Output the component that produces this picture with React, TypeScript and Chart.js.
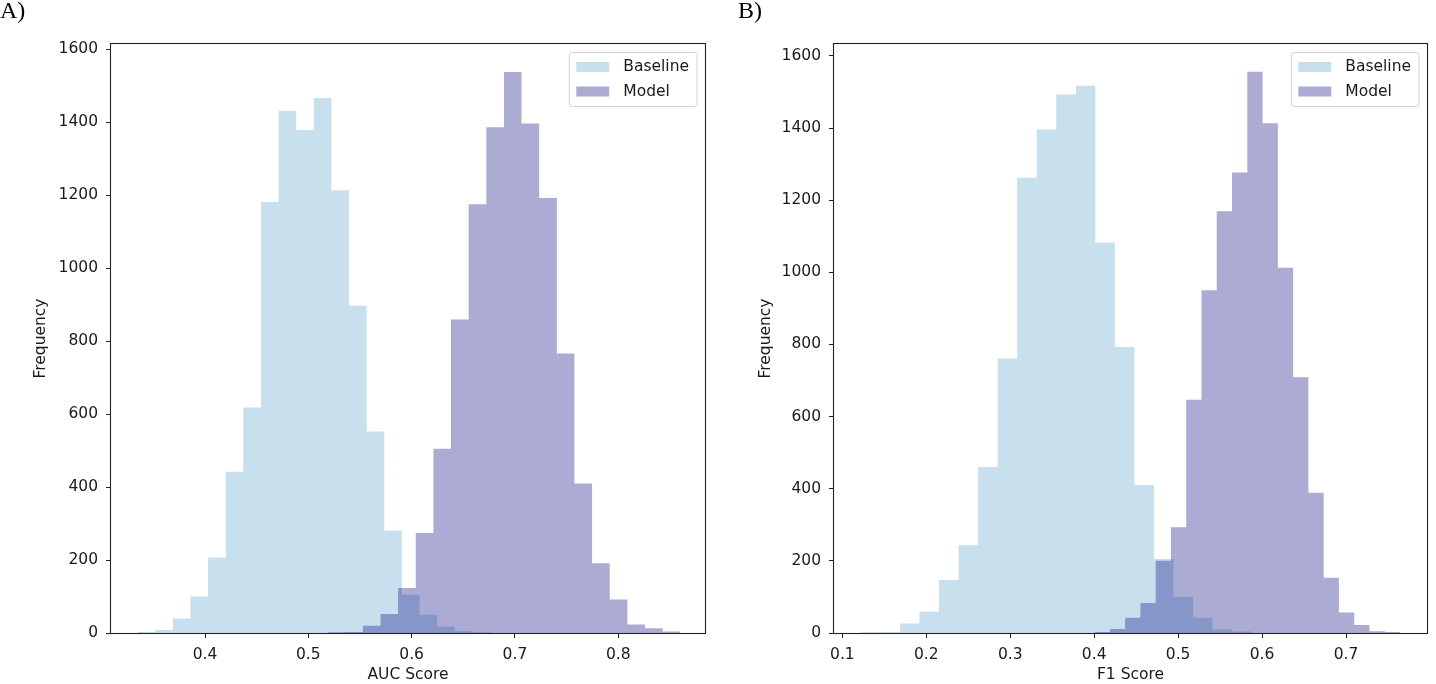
import React, { useEffect, useRef } from "react";
import { Chart, registerables } from "chart.js";

Chart.register(...registerables);

// ---------- Data ----------
// Panel A: AUC Score histograms
const aucBaselineEdges = [0.3348, 0.3519, 0.3689, 0.386, 0.403, 0.4201, 0.4371, 0.4542, 0.4712, 0.4883, 0.5053, 0.5224, 0.5395, 0.5565, 0.5736, 0.5906, 0.6077, 0.6247, 0.6418, 0.6588, 0.6759];
const aucBaselineCounts = [3, 8, 40, 100, 207, 442, 618, 1181, 1431, 1378, 1466, 1213, 897, 552, 280, 105, 50, 18, 5, 2];
const aucModelEdges = [0.5187, 0.5357, 0.5528, 0.5699, 0.5869, 0.604, 0.6211, 0.6381, 0.6552, 0.6723, 0.6894, 0.7064, 0.7235, 0.7406, 0.7576, 0.7747, 0.7918, 0.8089, 0.8259, 0.843, 0.8601];
const aucModelCounts = [2, 3, 20, 52, 123, 274, 505, 859, 1175, 1386, 1537, 1396, 1192, 766, 410, 191, 92, 23, 13, 4];
const aucXTicks = [0.4, 0.5, 0.6, 0.7, 0.8];

// Panel B: F1 Score histograms
const f1BaselineEdges = [0.122, 0.1453, 0.1686, 0.1918, 0.2151, 0.2384, 0.2617, 0.285, 0.3082, 0.3315, 0.3548, 0.3781, 0.4014, 0.4246, 0.4479, 0.4712, 0.4945, 0.5178, 0.541, 0.5643, 0.5876];
const f1BaselineCounts = [2, 3, 26, 59, 147, 243, 460, 761, 1262, 1396, 1493, 1517, 1082, 793, 410, 205, 100, 42, 10, 4];
const f1ModelEdges = [0.4004, 0.4186, 0.4368, 0.455, 0.4732, 0.4914, 0.5096, 0.5278, 0.546, 0.5642, 0.5824, 0.6006, 0.6188, 0.637, 0.6552, 0.6734, 0.6916, 0.7098, 0.728, 0.7462, 0.7644];
const f1ModelCounts = [3, 11, 42, 83, 200, 293, 647, 950, 1169, 1277, 1556, 1413, 1013, 709, 389, 153, 57, 22, 5, 3];
const f1XTicks = [0.1, 0.2, 0.3, 0.4, 0.5, 0.6, 0.7];

const yTicks = [0, 200, 400, 600, 800, 1000, 1200, 1400, 1600];
const seriesLabels = ["Baseline", "Model"];

// ---------- Styles ----------
const FONT = "'DejaVu Sans', sans-serif";
const FS = 15.5;
const TEXT = "#1a1a1a";
const BASELINE_FILL = "rgb(200, 224, 238)";
const MODEL_FILL = "rgba(3, 0, 125, 0.33)";

function histPoints(edges: number[], counts: number[]) {
  const pts = counts.map((c, i) => ({ x: edges[i], y: c }));
  pts.push({ x: edges[edges.length - 1], y: counts[counts.length - 1] });
  return pts;
}

const framePlugin = {
  id: "mplFrame",
  afterDraw(chart: any) {
    const { ctx, chartArea: a } = chart;
    ctx.save();
    ctx.strokeStyle = "#222";
    ctx.lineWidth = 1.1;
    ctx.strokeRect(Math.round(a.left) - 0.5, Math.round(a.top) - 0.5, Math.round(a.right - a.left) + 1, Math.round(a.bottom - a.top) + 1);
    ctx.restore();
  },
};

const legendPlugin = {
  id: "mplLegend",
  afterDraw(chart: any) {
    const { ctx, chartArea: a } = chart;
    const items = chart.data.datasets.map((ds: any) => ({ label: ds.label, color: ds.backgroundColor }));
    ctx.save();
    ctx.font = `${FS}px ${FONT}`;
    const tw = Math.max(...items.map((it: any) => ctx.measureText(it.label).width));
    const w = 54 + tw + 8;
    const h = 54;
    const x = a.right - 8 - w;
    const y = a.top + 8.5;
    const r = 3;
    ctx.beginPath();
    ctx.moveTo(x + r, y);
    ctx.lineTo(x + w - r, y);
    ctx.arcTo(x + w, y, x + w, y + r, r);
    ctx.lineTo(x + w, y + h - r);
    ctx.arcTo(x + w, y + h, x + w - r, y + h, r);
    ctx.lineTo(x + r, y + h);
    ctx.arcTo(x, y + h, x, y + h - r, r);
    ctx.lineTo(x, y + r);
    ctx.arcTo(x, y, x + r, y, r);
    ctx.closePath();
    ctx.fillStyle = "rgba(255,255,255,0.85)";
    ctx.fill();
    ctx.strokeStyle = "#d2d2d2";
    ctx.lineWidth = 1;
    ctx.stroke();
    items.forEach((it: any, i: number) => {
      const cy = y + 14.5 + i * 24.5;
      ctx.fillStyle = it.color;
      ctx.fillRect(x + 7, cy - 5, 33, 10);
      ctx.fillStyle = TEXT;
      ctx.textBaseline = "middle";
      ctx.textAlign = "left";
      ctx.fillText(it.label, x + 54, cy);
    });
    ctx.restore();
  },
};

type PanelProps = {
  left: number;
  baselineEdges: number[];
  baselineCounts: number[];
  modelEdges: number[];
  modelCounts: number[];
  xTicks: number[];
  xMin: number;
  xMax: number;
  yMax: number;
  xTitle: string;
  yAxisWidth: number;
  rightPad: number;
  yTitlePad: number;
};

function HistPanel(p: PanelProps) {
  const ref = useRef<HTMLCanvasElement | null>(null);
  useEffect(() => {
    if (!ref.current) return;
    const tickFont = { family: FONT, size: FS };
    const chart = new Chart(ref.current, {
      type: "line",
      data: {
        datasets: [
          {
            label: seriesLabels[0],
            data: histPoints(p.baselineEdges, p.baselineCounts),
            backgroundColor: BASELINE_FILL,
            borderColor: "rgba(0,0,0,0)",
            borderWidth: 0,
            pointRadius: 0,
            pointHoverRadius: 0,
            stepped: true,
            fill: "origin",
            order: 2,
          },
          {
            label: seriesLabels[1],
            data: histPoints(p.modelEdges, p.modelCounts),
            backgroundColor: MODEL_FILL,
            borderColor: "rgba(0,0,0,0)",
            borderWidth: 0,
            pointRadius: 0,
            pointHoverRadius: 0,
            stepped: true,
            fill: "origin",
            order: 1,
          },
        ],
      },
      options: {
        responsive: false,
        animation: false,
        events: [],
        layout: { padding: { top: 44, right: p.rightPad, left: 0, bottom: 0 } },
        plugins: {
          legend: { display: false },
          tooltip: { enabled: false },
          title: { display: false },
        },
        scales: {
          x: {
            type: "linear",
            min: p.xMin,
            max: p.xMax,
            afterBuildTicks: (scale: any) => {
              scale.ticks = p.xTicks.map((v) => ({ value: v }));
            },
            afterFit: (scale: any) => {
              scale.height = 51;
            },
            grid: { display: true, drawOnChartArea: false, drawTicks: true, tickLength: 5, tickColor: "#222", tickWidth: 1 },
            border: { display: false },
            ticks: {
              font: tickFont,
              color: TEXT,
              padding: 8,
              maxRotation: 0,
              autoSkip: false,
              callback: (v: any) => Number(v).toFixed(1),
            },
            title: { display: true, text: p.xTitle, font: tickFont, color: TEXT, padding: { top: 0, bottom: 0 } },
          },
          y: {
            type: "linear",
            min: 0,
            max: p.yMax,
            afterBuildTicks: (scale: any) => {
              scale.ticks = yTicks.map((v) => ({ value: v }));
            },
            afterFit: (scale: any) => {
              scale.width = p.yAxisWidth;
            },
            grid: { display: true, drawOnChartArea: false, drawTicks: true, tickLength: 5, tickColor: "#222", tickWidth: 1 },
            border: { display: false },
            ticks: {
              font: tickFont,
              color: TEXT,
              padding: 8,
              autoSkip: false,
              callback: (v: any) => String(Math.round(Number(v))),
            },
            title: { display: true, text: "Frequency", font: tickFont, color: TEXT, padding: { top: p.yTitlePad, bottom: 0 } },
          },
        },
      },
      plugins: [framePlugin, legendPlugin],
    } as any);
    return () => chart.destroy();
  }, []);
  return (
    <canvas
      ref={ref}
      width={718}
      height={684}
      style={{ position: "absolute", left: p.left, top: 0, width: 718, height: 684, display: "block" }}
    />
  );
}

export default function App() {
  const labelStyle: React.CSSProperties = {
    position: "absolute",
    top: -2,
    fontFamily: "'Liberation Serif', 'Times New Roman', serif",
    fontSize: 24,
    lineHeight: "24px",
    color: "#000",
  };
  return (
    <div style={{ position: "absolute", left: 0, top: 0, width: 1436, height: 684, background: "#fff", overflow: "hidden" }}>
      <HistPanel
        left={0}
        baselineEdges={aucBaselineEdges}
        baselineCounts={aucBaselineCounts}
        modelEdges={aucModelEdges}
        modelCounts={aucModelCounts}
        xTicks={aucXTicks}
        xMin={0.309}
        xMax={0.884}
        yMax={1614}
        xTitle="AUC Score"
        yAxisWidth={111}
        rightPad={13}
        yTitlePad={32}
      />
      <HistPanel
        left={718}
        baselineEdges={f1BaselineEdges}
        baselineCounts={f1BaselineCounts}
        modelEdges={f1ModelEdges}
        modelCounts={f1ModelCounts}
        xTicks={f1XTicks}
        xMin={0.09}
        xMax={0.7965}
        yMax={1633}
        xTitle="F1 Score"
        yAxisWidth={116}
        rightPad={9}
        yTitlePad={39}
      />
      <div style={{ ...labelStyle, left: 0 }}>A)</div>
      <div style={{ ...labelStyle, left: 738 }}>B)</div>
    </div>
  );
}
